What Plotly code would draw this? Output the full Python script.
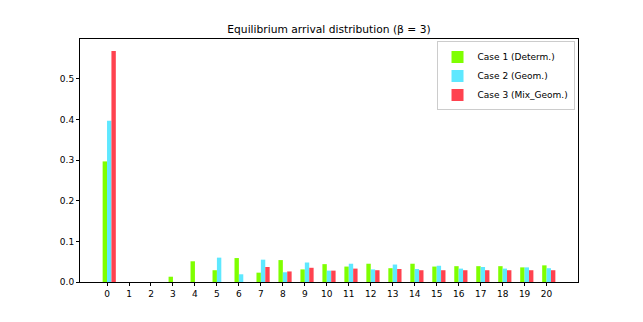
import plotly.graph_objects as go

# arrival slots 0..20
slots = list(range(21))

case1_determ = [0.297, 0.0, 0.0, 0.013, 0.051, 0.029, 0.059, 0.023, 0.054, 0.031, 0.044,
                0.038, 0.045, 0.034, 0.045, 0.038, 0.039, 0.039, 0.039, 0.036, 0.041]
case2_geom = [0.397, 0.0, 0.0, 0.0, 0.0, 0.060, 0.019, 0.055, 0.024, 0.048, 0.028,
              0.045, 0.031, 0.043, 0.032, 0.040, 0.033, 0.037, 0.033, 0.036, 0.034]
case3_mix = [0.569, 0.0, 0.0, 0.0, 0.0, 0.0, 0.0, 0.037, 0.026, 0.035, 0.028,
             0.033, 0.029, 0.032, 0.029, 0.029, 0.029, 0.029, 0.029, 0.029, 0.029]

y_ticks = [0.0, 0.1, 0.2, 0.3, 0.4, 0.5]

series = [
    ("Case 1 (Determ.)", case1_determ, "#7fff00", -0.2),
    ("Case 2 (Geom.)", case2_geom, "#5ee8ff", 0.0),
    ("Case 3 (Mix_Geom.)", case3_mix, "#ff424f", 0.2),
]

fig = go.Figure()
for name, vals, color, off in series:
    fig.add_trace(
        go.Bar(
            x=slots,
            y=vals,
            name=name,
            width=0.2,
            offset=off,
            marker=dict(color=color, line=dict(width=0)),
        )
    )

fig.update_layout(
    width=643,
    height=322,
    barmode="overlay",
    plot_bgcolor="white",
    paper_bgcolor="white",
    font=dict(family="DejaVu Sans", size=9, color="black"),
    margin=dict(l=80, r=65, t=38.5, b=40.3),
    title=dict(
        text="Equilibrium arrival distribution (β = 3)",
        x=(80 + 578) / 2 / 643,
        xanchor="center",
        y=1 - 29 / 322,
        yanchor="middle",
        font=dict(size=10.7),
    ),
    legend=dict(
        x=0.993,
        y=0.99,
        xanchor="right",
        yanchor="top",
        bordercolor="#cccccc",
        borderwidth=1,
        bgcolor="rgba(255,255,255,0.8)",
        font=dict(size=9),
        tracegroupgap=0,
    ),
    showlegend=True,
)

fig.update_xaxes(
    range=[-1.23, 21.43],
    tickmode="array",
    tickvals=slots,
    ticktext=[str(s) for s in slots],
    ticks="outside",
    ticklen=3,
    tickcolor="black",
    showline=True,
    linecolor="black",
    linewidth=1,
    mirror=True,
    showgrid=False,
    zeroline=False,
)
fig.update_yaxes(
    range=[0, 0.5985],
    tickmode="array",
    tickvals=y_ticks,
    ticktext=[f"{t:.1f}" for t in y_ticks],
    ticks="outside",
    ticklen=3,
    tickcolor="black",
    showline=True,
    linecolor="black",
    linewidth=1,
    mirror=True,
    showgrid=False,
    zeroline=False,
)

# page has a default 8px body margin; drop it so the figure sits at 0,0
fig.write_html(
    "out.html",
    config={"displayModeBar": False},
    post_script="document.body.style.margin='0';",
)
